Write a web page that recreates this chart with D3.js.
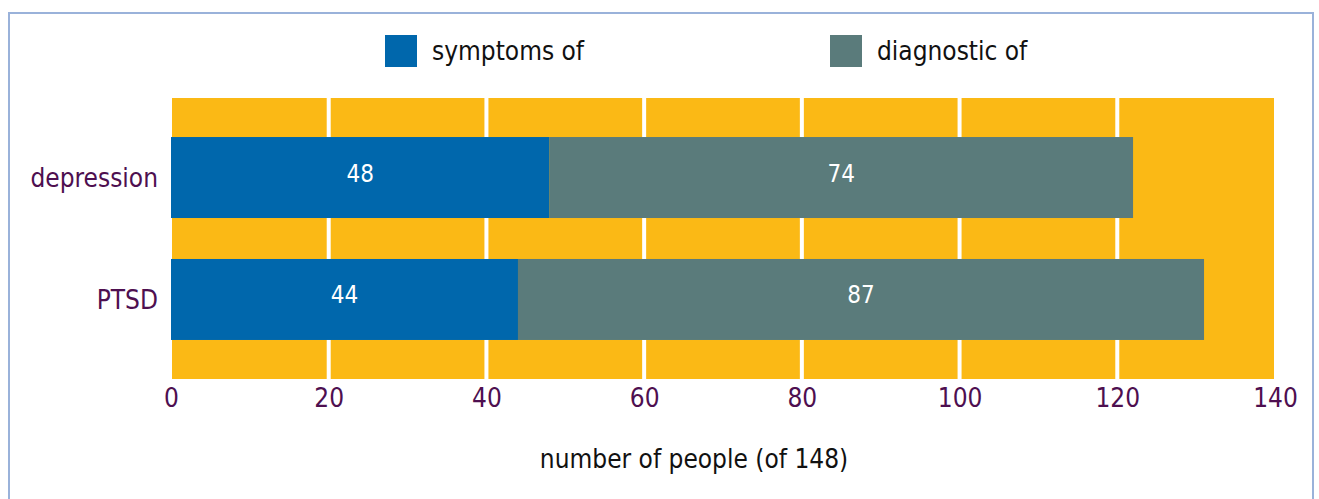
<!DOCTYPE html>
<html>
<head>
<meta charset="utf-8">
<script src="https://cdn.jsdelivr.net/npm/d3@7"></script>
<style>
  html, body { margin: 0; padding: 0; background: #fff; }
  svg { display: block; }
  text { font-family: "DejaVu Sans Condensed", "DejaVu Sans", sans-serif; }
</style>
</head>
<body>
<svg id="chart" width="1319" height="499"></svg>
<script>
// ---- data ----
const categories = ["depression", "PTSD"];
const symptomsOf = [48, 44];
const diagnosticOf = [74, 87];
const seriesNames = ["symptoms of", "diagnostic of"];
const tickValues = [0, 20, 40, 60, 80, 100, 120, 140];
const axisTitle = "number of people (of 148)";

// ---- layout ----
const colors = ["#0067ac", "#5a7b7b"];
const svg = d3.select("#chart");
const FONT = '"DejaVu Sans Condensed", "DejaVu Sans", sans-serif';

// outer border
svg.append("rect")
  .attr("x", 9).attr("y", 13).attr("width", 1304).attr("height", 520)
  .attr("fill", "none").attr("stroke", "#9ab2da").attr("stroke-width", 2);

const x = d3.scaleLinear().domain([0, 140]).range([171, 1275]);
const y = d3.scaleBand().domain(categories).range([98, 379])
  .paddingInner(0.336).paddingOuter(0.32);

// plot background
svg.append("rect")
  .attr("x", 172).attr("y", 98)
  .attr("width", 1274 - 172).attr("height", 379 - 98)
  .attr("fill", "#fbb915");

// gridlines
svg.append("g").selectAll("line")
  .data(tickValues.filter(v => v > 0 && v < 140))
  .join("line")
  .attr("x1", d => x(d)).attr("x2", d => x(d))
  .attr("y1", 98).attr("y2", 379)
  .attr("stroke", "#ffffff").attr("stroke-width", 4);

// stacked data
const rows = categories.map((c, i) => ({ cat: c, vals: [symptomsOf[i], diagnosticOf[i]] }));
const stack = d3.stack().keys([0, 1]).value((d, k) => d.vals[k]);
const series = stack(rows);

const segs = svg.append("g");
series.forEach((s, si) => {
  segs.selectAll(null).data(s).join("rect")
    .attr("x", d => x(d[0]))
    .attr("y", d => y(d.data.cat))
    .attr("width", d => x(d[1]) - x(d[0]))
    .attr("height", y.bandwidth())
    .attr("fill", colors[si]);
  segs.selectAll(null).data(s).join("text")
    .attr("x", d => (x(d[0]) + x(d[1])) / 2)
    .attr("y", d => y(d.data.cat) + y.bandwidth() / 2 - 3)
    .attr("text-anchor", "middle")
    .attr("dominant-baseline", "middle")
    .attr("fill", "#ffffff")
    .attr("font-size", 24)
    .text(d => d.data.vals[si]);
});

// x axis tick labels
const xAxis = d3.axisBottom(x).tickValues(tickValues).tickSize(0).tickPadding(0);
const gx = svg.append("g").attr("transform", "translate(0,387)").call(xAxis);
gx.select(".domain").remove();
gx.selectAll("text")
  .attr("fill", "#4e0f50").attr("font-size", 26)
  .attr("dy", "0.76em")
  .style("font-family", FONT);

// y axis labels
const yAxis = d3.axisLeft(y).tickSize(0).tickPadding(0);
const gy = svg.append("g").attr("transform", "translate(158,0)").call(yAxis);
gy.select(".domain").remove();
gy.selectAll("text")
  .attr("fill", "#4e0f50").attr("font-size", 26)
  .attr("dy", "0.35em")
  .style("font-family", FONT);

// axis title
svg.append("text")
  .attr("x", 694).attr("y", 468)
  .attr("text-anchor", "middle")
  .attr("fill", "#111").attr("font-size", 26)
  .text(axisTitle);

// legend
const legendX = [385, 830];
const lg = svg.append("g");
seriesNames.forEach((n, i) => {
  lg.append("rect").attr("x", legendX[i]).attr("y", 35)
    .attr("width", 32).attr("height", 32).attr("fill", colors[i]);
  lg.append("text").attr("x", legendX[i] + 47).attr("y", 60)
    .attr("fill", "#111").attr("font-size", 26)
    .text(n);
});
</script>
</body>
</html>
